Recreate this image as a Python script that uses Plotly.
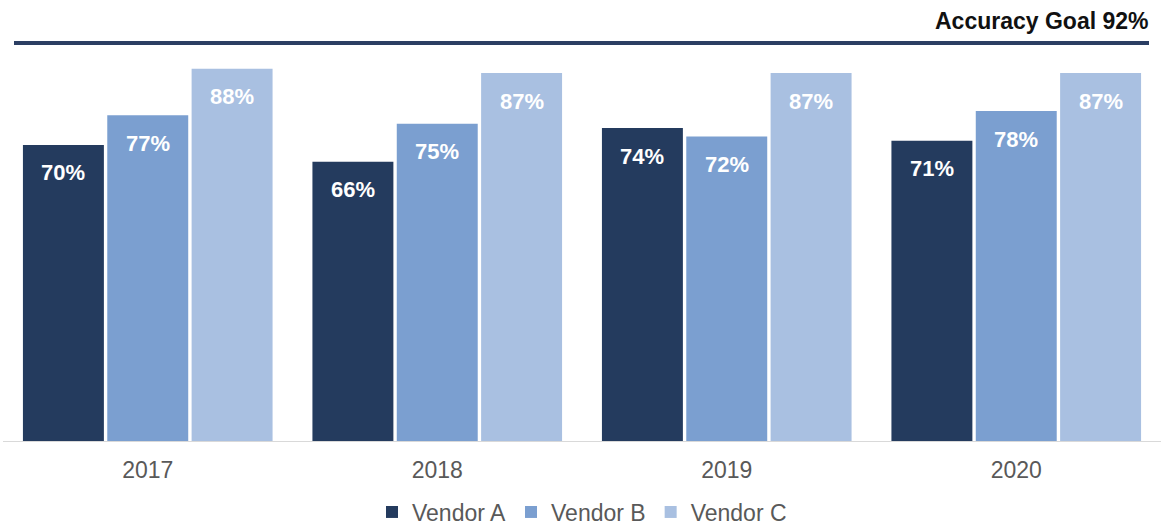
import plotly.graph_objects as go

years = ["2017", "2018", "2019", "2020"]
vendor_a = [70, 66, 74, 71]
vendor_b = [77, 75, 72, 78]
vendor_c = [88, 87, 87, 87]
series_names = ["Vendor A", "Vendor B", "Vendor C"]
goal_label = "Accuracy Goal 92%"

colors = ["#243b5e", "#7b9fd0", "#a9c0e1"]
series = [vendor_a, vendor_b, vendor_c]
FONT = "Arial, Liberation Sans, sans-serif"

fig = go.Figure()
for name, vals, col in zip(series_names, series, colors):
    fig.add_trace(go.Bar(x=years, y=vals, name=name, marker=dict(color=col, line=dict(width=0)),
                         hoverinfo="skip"))

slot = 289.5 * (1 - 0.126) / 3
shifts = [-slot, 0, slot]
for vals, sh in zip(series, shifts):
    for idx, v in enumerate(vals):
        fig.add_annotation(x=idx, y=v, xref="x", yref="y", text=f"<b>{v}%</b>", showarrow=False,
                           xshift=sh, yshift=-28, yanchor="middle",
                           font=dict(family=FONT, size=22, color="#ffffff"))

fig.add_annotation(xref="paper", yref="paper", x=1148/1158, y=(441-21)/398, xanchor="right", yanchor="middle",
                   text=f"<b>{goal_label}</b>", showarrow=False,
                   font=dict(family=FONT, size=23, color="#111111"))

fig.add_shape(type="line", xref="paper", yref="paper", x0=11/1158, x1=1146/1158, y0=1.0, y1=1.0,
              line=dict(color="#2b3e63", width=4))

fig.update_layout(
    width=1162, height=525,
    margin=dict(l=3, r=1, t=43, b=84, autoexpand=False),
    paper_bgcolor="white", plot_bgcolor="white",
    barmode="group", bargap=0.126, bargroupgap=0.04,
    showlegend=True,
    legend=dict(orientation="h", x=0.5, xanchor="center", y=(441-512)/398, yanchor="middle",
                font=dict(family=FONT, size=23, color="#595959"),
                tracegroupgap=0),
    xaxis=dict(type="category", categoryorder="array", categoryarray=years, range=[-0.5, 3.5],
               showline=True, linecolor="#d9d9d9", linewidth=1, showgrid=False, ticks="",
               tickfont=dict(family=FONT, size=23, color="#595959"), automargin=False,
               ticklabelstandoff=8, fixedrange=True),
    yaxis=dict(range=[0, 94.1], visible=False, showgrid=False, fixedrange=True, automargin=False),
)

fig.write_html("out.html")
